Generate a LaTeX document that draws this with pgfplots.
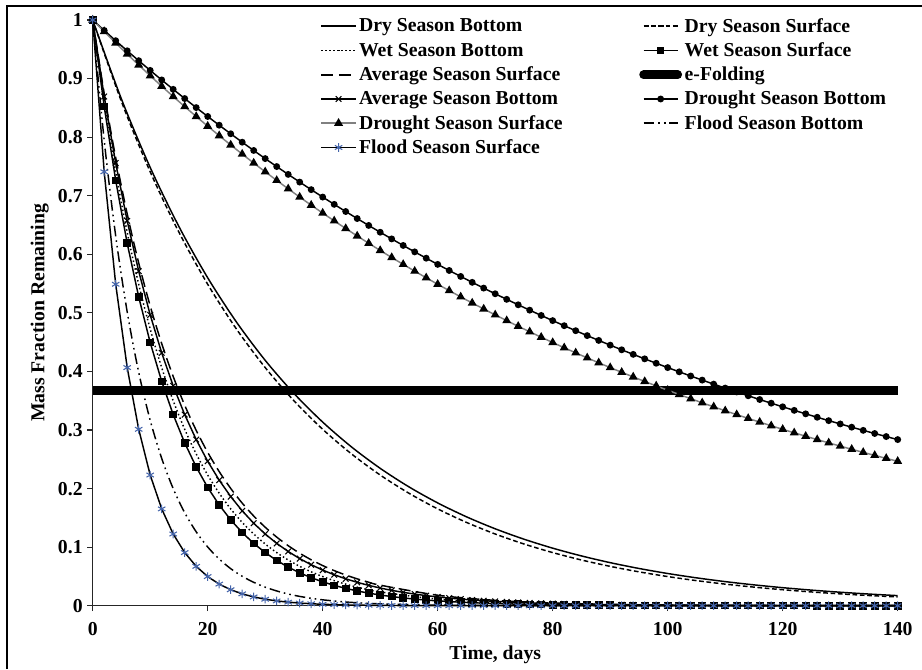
\documentclass[border=0pt]{standalone}
\usepackage{fontspec}
\setmainfont{Liberation Serif}
\usepackage{pgfplots}
\pgfplotsset{compat=1.18}
\newcommand\ff{\fontsize{14.8}{16}\selectfont\bfseries}
\definecolor{floodblue}{RGB}{68,100,170}
\definecolor{droughtgray}{RGB}{128,128,128}

\begin{document}
\begin{tikzpicture}
\begin{axis}[
  scale only axis, width=603.75pt, height=439.3pt,
  xmin=0, xmax=140, ymin=0, ymax=1,
  axis lines=left, axis line style={-, line width=0.9pt, black!85},
  tick align=outside, major tick length=4pt, tick style={black!85, line width=0.8pt},
  xtick={0,20,...,140}, ytick={0,0.1,0.2,0.3,0.4,0.5,0.6,0.7,0.8,0.9,1},
  /pgf/number format/assume math mode=true,
  ticklabel style={font=\ff},
  xticklabel style={yshift=-5pt},
  yticklabel style={/pgf/number format/fixed, /pgf/number format/precision=1},
  xlabel={Time, days}, ylabel={Mass Fraction Remaining},
  label style={font=\ff},
  xlabel style={yshift=-0.5pt},
  clip=false,
  legend columns=2, legend cell align=left,
  legend style={at={(0.278,1.0125)}, anchor=north west, draw=none, fill=none, font=\ff,
    row sep=2.3pt, /tikz/every even column/.append style={column sep=55.5pt}},
  legend image code/.code={\draw[mark repeat=2, mark phase=2, #1] plot coordinates {(0cm,0cm) (0.45cm,0cm) (0.9cm,0cm)};},
  every axis plot/.append style={line width=1.1pt, black},
]
% Dry Season Bottom
\addplot[solid, smooth] coordinates {(0,1)(5,0.86502)(10,0.74826)(15,0.64726)(20,0.55990)(25,0.48432)(30,0.41895)(35,0.36240)(40,0.31349)(45,0.27117)(50,0.23457)(55,0.20291)(60,0.17552)(65,0.15183)(70,0.13134)(75,0.11361)(80,0.09827)(85,0.08501)(90,0.07353)(95,0.06361)(100,0.05502)(105,0.04760)(110,0.04117)(115,0.03562)(120,0.03081)(125,0.02665)(130,0.02305)(135,0.01994)(140,0.01725)};
\addlegendentry{Dry Season Bottom}
% Dry Season Surface
\addplot[dash pattern=on 3.5pt off 2pt, smooth] coordinates {(0,1)(5,0.86071)(10,0.74082)(15,0.63763)(20,0.54881)(25,0.47237)(30,0.40657)(35,0.34994)(40,0.30119)(45,0.25924)(50,0.22313)(55,0.19205)(60,0.16530)(65,0.14227)(70,0.12246)(75,0.10540)(80,0.09072)(85,0.07808)(90,0.06721)(95,0.05784)(100,0.04979)(105,0.04285)(110,0.03688)(115,0.03175)(120,0.02732)(125,0.02352)(130,0.02024)(135,0.01742)(140,0.01500)};
\addlegendentry{Dry Season Surface}
% Wet Season Bottom
\addplot[dash pattern=on 1.1pt off 1.9pt, smooth] coordinates {(0,1)(2,0.86071)(4,0.74082)(6,0.63763)(8,0.54881)(10,0.47237)(12,0.40657)(14,0.34994)(16,0.30119)(18,0.25924)(20,0.22313)(22,0.19205)(24,0.16530)(26,0.14227)(28,0.12246)(30,0.10540)(32,0.09072)(34,0.07808)(36,0.06721)(38,0.05784)(40,0.04979)(42,0.04285)(44,0.03688)(46,0.03175)(48,0.02732)(50,0.02352)(60,0.01111)(70,0.00525)(80,0.00248)(90,0.00117)(100,0.00055)(120,0.00012)(140,0.00003)};
\addlegendentry{Wet Season Bottom}
% Wet Season Surface
\addplot[solid, mark=square*, mark size=2.3pt, mark options={solid, fill=black}] coordinates {(0,1)(2,0.85214)(4,0.72615)(6,0.61878)(8,0.52729)(10,0.44933)(12,0.38289)(14,0.32628)(16,0.27804)(18,0.23693)(20,0.20190)(22,0.17204)(24,0.14661)(26,0.12493)(28,0.10646)(30,0.09072)(32,0.07730)(34,0.06587)(36,0.05613)(38,0.04783)(40,0.04076)(42,0.03474)(44,0.02960)(46,0.02522)(48,0.02149)(50,0.01832)(52,0.01561)(54,0.01330)(56,0.01133)(58,0.00966)(60,0.00823)(62,0.00701)(64,0.00598)(66,0.00509)(68,0.00434)(70,0.00370)(72,0.00315)(74,0.00269)(76,0.00229)(78,0.00195)(80,0.00166)(82,0.00142)(84,0.00121)(86,0.00103)(88,0.00088)(90,0.00075)(92,0.00064)(94,0.00054)(96,0.00046)(98,0.00039)(100,0.00034)(102,0.00029)(104,0.00024)(106,0.00021)(108,0.00018)(110,0.00015)(112,0.00013)(114,0.00011)(116,0.00009)(118,0.00008)(120,0.00007)(122,0.00006)(124,0.00005)(126,0.00004)(128,0.00004)(130,0.00003)(132,0.00003)(134,0.00002)(136,0.00002)(138,0.00002)(140,0.00001)};
\addlegendentry{Wet Season Surface}
% Average Season Surface
\addplot[dash pattern=on 9pt off 4pt, smooth] coordinates {(0,1)(2,0.87459)(4,0.76491)(6,0.66899)(8,0.58509)(10,0.51171)(12,0.44754)(14,0.39141)(16,0.34233)(18,0.29940)(20,0.26185)(22,0.22901)(24,0.20029)(26,0.17517)(28,0.15320)(30,0.13399)(32,0.11719)(34,0.10249)(36,0.08964)(38,0.07840)(40,0.06856)(42,0.05997)(44,0.05245)(46,0.04587)(48,0.04012)(50,0.03508)(60,0.01795)(70,0.00919)(80,0.00470)(90,0.00241)(100,0.00123)(120,0.00032)(140,0.00008)};
\addlegendentry{Average Season Surface}
% e-Folding
\addplot[solid, line width=6.5pt, legend image post style={line cap=round}] coordinates {(0,0.3679)(140,0.3679)};
\addlegendentry{e-Folding}
% Average Season Bottom
\addplot[solid, mark=x, mark size=3pt, mark options={solid, line width=0.8pt}] coordinates {(0,1)(2,0.86936)(4,0.75578)(6,0.65705)(8,0.57121)(10,0.49659)(12,0.43171)(14,0.37531)(16,0.32628)(18,0.28365)(20,0.24660)(22,0.21438)(24,0.18637)(26,0.16203)(28,0.14086)(30,0.12246)(32,0.10646)(34,0.09255)(36,0.08046)(38,0.06995)(40,0.06081)(42,0.05287)(44,0.04596)(46,0.03996)(48,0.03474)(50,0.03020)(52,0.02625)(54,0.02282)(56,0.01984)(58,0.01725)(60,0.01500)(62,0.01304)(64,0.01133)(66,0.00985)(68,0.00857)(70,0.00745)(72,0.00647)(74,0.00563)(76,0.00489)(78,0.00425)(80,0.00370)(82,0.00321)(84,0.00279)(86,0.00243)(88,0.00211)(90,0.00184)(92,0.00160)(94,0.00139)(96,0.00121)(98,0.00105)(100,0.00091)(102,0.00079)(104,0.00069)(106,0.00060)(108,0.00052)(110,0.00045)(112,0.00040)(114,0.00034)(116,0.00030)(118,0.00026)(120,0.00022)(122,0.00020)(124,0.00017)(126,0.00015)(128,0.00013)(130,0.00011)(132,0.00010)(134,0.00009)(136,0.00007)(138,0.00006)(140,0.00006)};
\addlegendentry{Average Season Bottom}
% Drought Season Bottom
\addplot[solid, mark=*, mark size=2pt, mark options={solid, fill=black}] coordinates {(0,1)(2,0.98216)(4,0.96464)(6,0.94743)(8,0.93053)(10,0.91393)(12,0.89763)(14,0.88161)(16,0.86589)(18,0.85044)(20,0.83527)(22,0.82037)(24,0.80574)(26,0.79136)(28,0.77724)(30,0.76338)(32,0.74976)(34,0.73638)(36,0.72325)(38,0.71035)(40,0.69768)(42,0.68523)(44,0.67301)(46,0.66100)(48,0.64921)(50,0.63763)(52,0.62625)(54,0.61508)(56,0.60411)(58,0.59333)(60,0.58275)(62,0.57235)(64,0.56214)(66,0.55211)(68,0.54226)(70,0.53259)(72,0.52309)(74,0.51376)(76,0.50459)(78,0.49559)(80,0.48675)(82,0.47807)(84,0.46954)(86,0.46116)(88,0.45294)(90,0.44486)(92,0.43692)(94,0.42913)(96,0.42147)(98,0.41395)(100,0.40657)(102,0.39932)(104,0.39219)(106,0.38520)(108,0.37833)(110,0.37158)(112,0.36495)(114,0.35844)(116,0.35204)(118,0.34576)(120,0.33960)(122,0.33354)(124,0.32759)(126,0.32174)(128,0.31600)(130,0.31037)(132,0.30483)(134,0.29939)(136,0.29405)(138,0.28881)(140,0.28365)};
\addlegendentry{Drought Season Bottom}
% Drought Season Surface
\addplot[solid, droughtgray, mark=triangle*, mark size=2.8pt, mark options={solid, fill=black, draw=black}] coordinates {(0,1)(2,0.98020)(4,0.96079)(6,0.94176)(8,0.92312)(10,0.90484)(12,0.88692)(14,0.86936)(16,0.85214)(18,0.83527)(20,0.81873)(22,0.80252)(24,0.78663)(26,0.77105)(28,0.75578)(30,0.74082)(32,0.72615)(34,0.71177)(36,0.69768)(38,0.68386)(40,0.67032)(42,0.65705)(44,0.64404)(46,0.63128)(48,0.61878)(50,0.60653)(52,0.59452)(54,0.58275)(56,0.57121)(58,0.55990)(60,0.54881)(62,0.53794)(64,0.52729)(66,0.51685)(68,0.50662)(70,0.49659)(72,0.48675)(74,0.47711)(76,0.46767)(78,0.45841)(80,0.44933)(82,0.44043)(84,0.43171)(86,0.42316)(88,0.41478)(90,0.40657)(92,0.39852)(94,0.39063)(96,0.38289)(98,0.37531)(100,0.36788)(102,0.36060)(104,0.35345)(106,0.34646)(108,0.33960)(110,0.33287)(112,0.32628)(114,0.31982)(116,0.31349)(118,0.30728)(120,0.30119)(122,0.29523)(124,0.28938)(126,0.28365)(128,0.27804)(130,0.27253)(132,0.26714)(134,0.26185)(136,0.25666)(138,0.25158)(140,0.24660)};
\addlegendentry{Drought Season Surface}
% Flood Season Bottom
\addplot[dash pattern=on 8pt off 3pt on 1.2pt off 3pt on 1.2pt off 3pt, smooth] coordinates {(0,1)(2,0.79453)(4,0.63128)(6,0.50158)(8,0.39852)(10,0.31664)(12,0.25158)(14,0.19989)(16,0.15882)(18,0.12619)(20,0.10026)(22,0.07966)(24,0.06329)(26,0.05029)(28,0.03996)(30,0.03175)(32,0.02522)(34,0.02004)(36,0.01592)(38,0.01265)(40,0.01005)(44,0.00635)(48,0.00401)(52,0.00253)(60,0.00101)(80,0.00010)(100,0.00001)(140,0)};
\addlegendentry{Flood Season Bottom}
% Flood Season Surface
\addplot[solid, mark=asterisk, mark size=3.2pt, mark options={solid, floodblue, line width=0.8pt}] coordinates {(0,1)(2,0.74082)(4,0.54881)(6,0.40657)(8,0.30119)(10,0.22313)(12,0.16530)(14,0.12246)(16,0.09072)(18,0.06721)(20,0.04979)(22,0.03688)(24,0.02732)(26,0.02024)(28,0.01500)(30,0.01111)(32,0.00823)(34,0.00610)(36,0.00452)(38,0.00335)(40,0.00248)(42,0.00184)(44,0.00136)(46,0.00101)(48,0.00075)(50,0.00055)(52,0.00041)(54,0.00030)(56,0.00023)(58,0.00017)(60,0.00012)(62,0.00009)(64,0.00007)(66,0.00005)(68,0.00004)(70,0.00003)(72,0)(74,0)(76,0)(78,0)(80,0)(82,0)(84,0)(86,0)(88,0)(90,0)(92,0)(94,0)(96,0)(98,0)(100,0)(102,0)(104,0)(106,0)(108,0)(110,0)(112,0)(114,0)(116,0)(118,0)(120,0)(122,0)(124,0)(126,0)(128,0)(130,0)(132,0)(134,0)(136,0)(138,0)(140,0)};
\addlegendentry{Flood Season Surface}
\coordinate (bbsw) at (rel axis cs:-0.11516,-0.10808);
\coordinate (bbne) at (rel axis cs:1.03019,1.03415);
\coordinate (frl) at (rel axis cs:-0.10646,-0.10808);
\coordinate (frt) at (rel axis cs:-0.10646,1.02391);
\coordinate (frr) at (rel axis cs:1.03019,1.02391);
\end{axis}
\pgfresetboundingbox
\useasboundingbox (bbsw) rectangle (bbne);
\draw[line width=1.5pt] (frl) -- (frt) -- (frr);
\end{tikzpicture}
\end{document}
